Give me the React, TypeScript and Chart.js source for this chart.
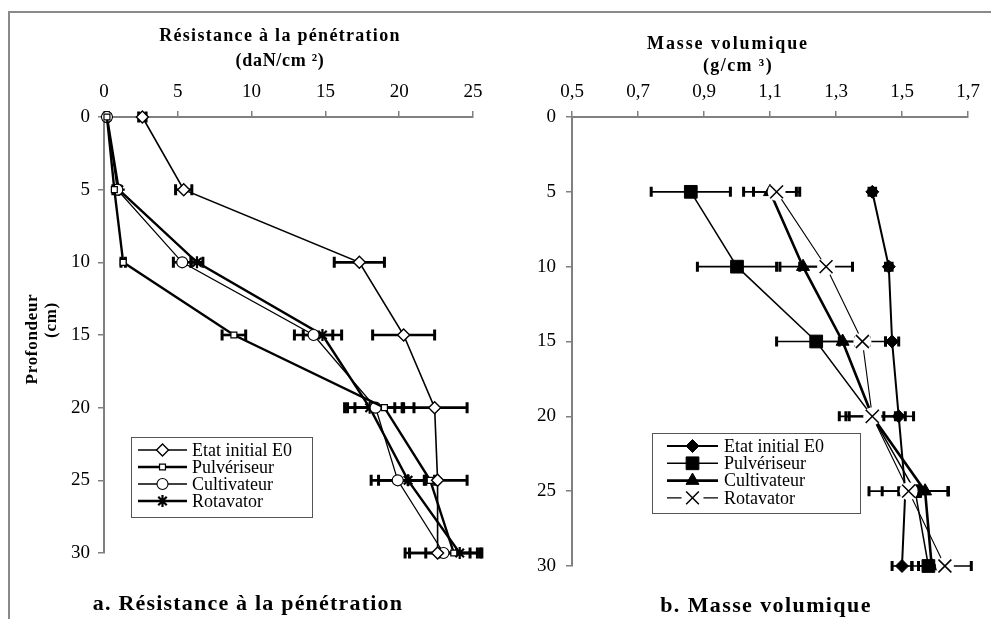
import React, { useEffect, useRef } from 'react';
import { Chart, registerables } from 'chart.js';
import { drawPoint } from 'chart.js/helpers';

Chart.register(...registerables);

// ---------- DATA ----------
const seriesNames = ['Etat initial E0', 'Pulvériseur', 'Cultivateur', 'Rotavator'];

// a. Résistance à la pénétration (daN/cm²) by depth (cm)
const resDepths = [0, 5, 10, 15, 20, 25, 30];
const resE0 = [2.6, 5.4, 17.3, 20.3, 22.4, 22.6, 22.6];
const resPulv = [0.2, 0.7, 1.3, 8.8, 19.0, 22.1, 23.7];
const resCult = [0.2, 0.9, 5.3, 14.2, 18.4, 19.9, 23.0];
const resRot = [0.2, 1.0, 6.3, 14.8, 18.0, 20.6, 24.1];
const resE0Err = [0.25, 0.55, 1.7, 2.1, 2.2, 2.0, 2.2];
const resPulvErr = [0.1, 0.1, 0.15, 0.8, 2.0, 0.3, 1.9];
const resCultErr = [0.1, 0.1, 0.6, 1.3, 1.9, 1.8, 2.3];
const resRotErr = [0.1, 0.1, 0.4, 1.3, 1.7, 2.0, 1.4];
const resTicksMin = 0;
const resTicksMax = 25;
const resTickStep = 5;

// b. Masse volumique (g/cm³) by depth (cm)
const denDepths = [5, 10, 15, 20, 25, 30];
const denE0 = [1.41, 1.46, 1.47, 1.49, 1.51, 1.5];
const denPulv = [0.86, 1.0, 1.24, 1.41, 1.54, 1.58];
const denCult = [1.1, 1.2, 1.32, 1.41, 1.57, 1.59];
const denRot = [1.12, 1.27, 1.38, 1.41, 1.52, 1.63];
const denE0Err = [0.01, 0.01, 0.02, 0.045, 0.02, 0.03];
const denPulvErr = [0.12, 0.12, 0.12, 0.08, 0.1, 0.05];
const denCultErr = [0.08, 0.07, 0.08, 0.1, 0.07, 0.04];
const denRotErr = [0.07, 0.08, 0.07, 0.07, 0.12, 0.08];
const denTicksMin = 0.5;
const denTicksMax = 1.7;
const denTickStep = 0.2;

const depthMin = 0;
const depthMax = 30;
const depthStep = 5;

// ---------- HELPERS ----------
const FONT = "'Liberation Serif', 'Times New Roman', serif";
const AXIS_GRAY = '#808080';

const pts = (xs: number[], ys: number[]) => xs.map((v, i) => ({ x: v, y: ys[i] }));

function markerOpts(ds: any) {
  return { pointStyle: ds.pointStyle, radius: ds.pointRadius, borderWidth: ds.pointBorderWidth, rotation: 0 } as any;
}

const errorBarPlugin = {
  id: 'errorBars',
  beforeDatasetsDraw(chart: any, _args: any, opts: any) {
    const { ctx } = chart;
    const xs = chart.scales.x;
    const ys = chart.scales.y;
    ctx.save();
    ctx.strokeStyle = '#000';
    chart.data.datasets.forEach((ds: any) => {
      const errs: number[] = ds.errors;
      if (!errs) return;
      ds.data.forEach((p: any, i: number) => {
        const e = errs[i];
        const x0 = xs.getPixelForValue(p.x - e);
        const x1 = xs.getPixelForValue(p.x + e);
        const py = ys.getPixelForValue(p.y);
        ctx.lineWidth = opts.lineWidth;
        ctx.beginPath();
        ctx.moveTo(x0, py);
        ctx.lineTo(x1, py);
        ctx.stroke();
        ctx.lineWidth = opts.capWidth;
        ctx.beginPath();
        ctx.moveTo(x0, py - opts.capHeight / 2);
        ctx.lineTo(x0, py + opts.capHeight / 2);
        ctx.moveTo(x1, py - opts.capHeight / 2);
        ctx.lineTo(x1, py + opts.capHeight / 2);
        ctx.stroke();
      });
    });
    ctx.restore();
  },
  afterDatasetsDraw(chart: any) {
    // markers drawn on a white halo (e.g. the × of Rotavator)
    const { ctx } = chart;
    const xs = chart.scales.x;
    const ys = chart.scales.y;
    ctx.save();
    chart.data.datasets.forEach((ds: any) => {
      if (!ds.halo) return;
      ds.data.forEach((p: any) => {
        const px = xs.getPixelForValue(p.x);
        const py = ys.getPixelForValue(p.y);
        ctx.fillStyle = '#fff';
        ctx.beginPath();
        ctx.arc(px, py, ds.halo, 0, Math.PI * 2);
        ctx.fill();
        ctx.fillStyle = ds.pointBackgroundColor;
        ctx.strokeStyle = ds.pointBorderColor;
        ctx.lineWidth = ds.pointBorderWidth;
        drawPoint(ctx, markerOpts(ds), px, py);
      });
    });
    ctx.restore();
  },
};

const legendPlugin = {
  id: 'boxLegend',
  afterDraw(chart: any, _args: any, o: any) {
    const { ctx } = chart;
    ctx.save();
    ctx.fillStyle = '#fff';
    ctx.fillRect(o.x, o.y, o.w, o.h);
    ctx.strokeStyle = '#555';
    ctx.lineWidth = 1;
    ctx.strokeRect(o.x + 0.5, o.y + 0.5, o.w, o.h);
    chart.data.datasets.forEach((ds: any, i: number) => {
      const y = o.y + o.first + i * o.rowH;
      const mid = (o.lx0 + o.lx1) / 2;
      ctx.strokeStyle = '#000';
      ctx.lineWidth = ds.borderWidth;
      ctx.beginPath();
      ctx.moveTo(o.lx0, y);
      ctx.lineTo(o.lx1, y);
      ctx.stroke();
      if (ds.halo) {
        ctx.fillStyle = '#fff';
        ctx.beginPath();
        ctx.arc(mid, y, ds.halo + 2, 0, Math.PI * 2);
        ctx.fill();
      }
      ctx.fillStyle = ds.pointBackgroundColor;
      ctx.strokeStyle = ds.pointBorderColor;
      ctx.lineWidth = ds.pointBorderWidth;
      drawPoint(ctx, markerOpts(ds), mid, y);
      ctx.fillStyle = '#000';
      ctx.font = `${o.fontSize}px ${FONT}`;
      ctx.textBaseline = 'middle';
      ctx.textAlign = 'left';
      ctx.fillText(ds.label, o.tx, y + 1);
    });
    ctx.restore();
  },
};

const axisCommon = {
  grid: {
    display: true,
    drawOnChartArea: false,
    drawTicks: true,
    tickLength: 6,
    color: AXIS_GRAY,
    lineWidth: 1.5,
  },
  border: { display: true, color: AXIS_GRAY, width: 2 },
};

function makeDataset(label: string, data: any[], errors: number[], style: any) {
  return {
    label,
    data,
    errors,
    showLine: true,
    borderColor: '#000',
    pointBorderColor: '#000',
    clip: false,
    ...style,
  };
}

function buildResConfig(): any {
  return {
    type: 'scatter',
    data: {
      datasets: [
        makeDataset(seriesNames[0], pts(resE0, resDepths), resE0Err, {
          borderWidth: 1.6, pointStyle: 'rectRot', pointRadius: 6, pointBackgroundColor: '#fff', pointBorderWidth: 1.4,
        }),
        makeDataset(seriesNames[1], pts(resPulv, resDepths), resPulvErr, {
          borderWidth: 2.4, pointStyle: 'rect', pointRadius: 4.2, pointBackgroundColor: '#fff', pointBorderWidth: 1.2,
        }),
        makeDataset(seriesNames[2], pts(resCult, resDepths), resCultErr, {
          borderWidth: 1.3, pointStyle: 'circle', pointRadius: 5.5, pointBackgroundColor: '#fff', pointBorderWidth: 1.1,
        }),
        makeDataset(seriesNames[3], pts(resRot, resDepths), resRotErr, {
          borderWidth: 2.4, pointStyle: 'star', pointRadius: 6, pointBackgroundColor: '#000', pointBorderWidth: 2.2,
        }),
      ],
    },
    options: {
      animation: false,
      responsive: false,
      maintainAspectRatio: false,
      events: [],
      layout: { padding: { left: 0, top: 0, right: 27, bottom: 66 } },
      plugins: {
        legend: { display: false },
        tooltip: { enabled: false },
        errorBars: { lineWidth: 2.6, capWidth: 3, capHeight: 11 },
        boxLegend: { x: 131, y: 437, w: 181, h: 80, first: 13, rowH: 17, lx0: 138, lx1: 187, tx: 192, fontSize: 18 },
      },
      scales: {
        x: {
          type: 'linear',
          position: 'top',
          min: resTicksMin,
          max: resTicksMax,
          ticks: { stepSize: resTickStep, color: '#000', font: { family: FONT, size: 19 }, padding: 8, maxRotation: 0 },
          afterFit: (s: any) => { s.height = 117; },
          ...axisCommon,
        },
        y: {
          type: 'linear',
          reverse: true,
          min: depthMin,
          max: depthMax,
          ticks: { stepSize: depthStep, color: '#000', font: { family: FONT, size: 19 }, padding: 8 },
          afterFit: (s: any) => { s.width = 104; },
          ...axisCommon,
        },
      },
    },
    plugins: [errorBarPlugin, legendPlugin],
  };
}

function buildDenConfig(): any {
  return {
    type: 'scatter',
    data: {
      datasets: [
        makeDataset(seriesNames[0], pts(denE0, denDepths), denE0Err, {
          borderWidth: 2, pointStyle: 'rectRot', pointRadius: 6.5, pointBackgroundColor: '#000', pointBorderWidth: 1,
        }),
        makeDataset(seriesNames[1], pts(denPulv, denDepths), denPulvErr, {
          borderWidth: 1.5, pointStyle: 'rect', pointRadius: 9, pointBackgroundColor: '#000', pointBorderWidth: 1,
        }),
        makeDataset(seriesNames[2], pts(denCult, denDepths), denCultErr, {
          borderWidth: 2.6, pointStyle: 'triangle', pointRadius: 7.5, pointBackgroundColor: '#000', pointBorderWidth: 1,
        }),
        makeDataset(seriesNames[3], pts(denRot, denDepths), denRotErr, {
          borderWidth: 1.1, pointStyle: 'crossRot', pointRadius: 9, pointBackgroundColor: '#000', pointBorderWidth: 1.5, halo: 9,
        }),
      ],
    },
    options: {
      animation: false,
      responsive: false,
      maintainAspectRatio: false,
      events: [],
      layout: { padding: { left: 0, top: 0, right: 23, bottom: 53 } },
      plugins: {
        legend: { display: false },
        tooltip: { enabled: false },
        errorBars: { lineWidth: 1.6, capWidth: 3, capHeight: 10 },
        boxLegend: { x: 152, y: 433, w: 208, h: 80, first: 13, rowH: 17.3, lx0: 167, lx1: 218, tx: 224, fontSize: 18 },
      },
      scales: {
        x: {
          type: 'linear',
          position: 'top',
          min: denTicksMin,
          max: denTicksMax,
          ticks: {
            stepSize: denTickStep,
            color: '#000',
            font: { family: FONT, size: 19 },
            padding: 8,
            maxRotation: 0,
            callback: (v: any) => Number(v).toFixed(1).replace('.', ','),
          },
          afterFit: (s: any) => { s.height = 117; },
          ...axisCommon,
        },
        y: {
          type: 'linear',
          reverse: true,
          min: depthMin,
          max: depthMax,
          ticks: { stepSize: depthStep, color: '#000', font: { family: FONT, size: 19 }, padding: 10 },
          afterFit: (s: any) => { s.width = 72; },
          ...axisCommon,
        },
      },
    },
    plugins: [errorBarPlugin, legendPlugin],
  };
}

const textBase: React.CSSProperties = {
  position: 'absolute',
  fontFamily: FONT,
  color: '#000',
  whiteSpace: 'nowrap',
  lineHeight: 1,
  transform: 'translate(-50%, -50%)',
};

export default function App() {
  const leftRef = useRef<HTMLCanvasElement>(null);
  const rightRef = useRef<HTMLCanvasElement>(null);

  useEffect(() => {
    const c1 = new Chart(leftRef.current as HTMLCanvasElement, buildResConfig());
    const c2 = new Chart(rightRef.current as HTMLCanvasElement, buildDenConfig());
    return () => {
      c1.destroy();
      c2.destroy();
    };
  }, []);

  return (
    <div style={{ position: 'fixed', left: 0, top: 0, width: 991, height: 619, background: '#fff', overflow: 'hidden' }}>
      {/* frame */}
      <div style={{ position: 'absolute', left: 8, top: 11, width: 983, height: 2, background: '#8a8a8a' }} />
      <div style={{ position: 'absolute', left: 8, top: 11, width: 2, height: 608, background: '#8a8a8a' }} />

      <canvas ref={leftRef} width={500} height={619} style={{ position: 'absolute', left: 0, top: 0, width: 500, height: 619 }} />
      <canvas ref={rightRef} width={491} height={619} style={{ position: 'absolute', left: 500, top: 0, width: 491, height: 619 }} />

      {/* axis titles */}
      <div style={{ ...textBase, left: 280, top: 35, fontSize: 18, letterSpacing: 1.3, fontWeight: 'bold' }}>Résistance à la pénétration</div>
      <div style={{ ...textBase, left: 280, top: 60, fontSize: 18, letterSpacing: 0.7, fontWeight: 'bold' }}>(daN/cm ²)</div>
      <div style={{ ...textBase, left: 728, top: 43, fontSize: 18, letterSpacing: 1.9, fontWeight: 'bold' }}>Masse volumique</div>
      <div style={{ ...textBase, left: 738, top: 65, fontSize: 18, letterSpacing: 1.4, fontWeight: 'bold' }}>(g/cm ³)</div>

      {/* y title */}
      <div style={{ ...textBase, left: 31, top: 339, fontSize: 17, letterSpacing: 0.7, fontWeight: 'bold', transform: 'translate(-50%, -50%) rotate(-90deg)' }}>Profondeur</div>
      <div style={{ ...textBase, left: 50, top: 320, fontSize: 17, letterSpacing: 0.7, fontWeight: 'bold', transform: 'translate(-50%, -50%) rotate(-90deg)' }}>(cm)</div>

      {/* captions */}
      <div style={{ ...textBase, left: 248, top: 603, fontSize: 22, letterSpacing: 1.2, fontWeight: 'bold' }}>a.  Résistance à la pénétration</div>
      <div style={{ ...textBase, left: 766, top: 605, fontSize: 22, letterSpacing: 1.4, fontWeight: 'bold' }}>b. Masse volumique</div>
    </div>
  );
}
